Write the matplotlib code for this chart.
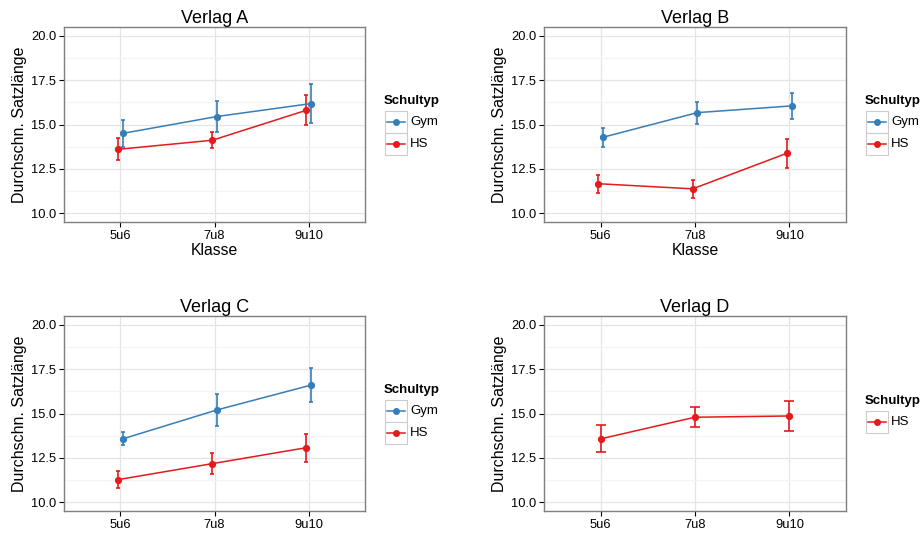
import matplotlib
matplotlib.use("Agg")
import matplotlib.pyplot as plt
from matplotlib.patches import Rectangle
from matplotlib.lines import Line2D
import numpy as np

plt.rcParams["font.family"] = ["Liberation Sans", "DejaVu Sans"]

KLASSEN = ["5u6", "7u8", "9u10"]
VERLAGE = ["Verlag A", "Verlag B", "Verlag C", "Verlag D"]

# mean sentence length per grade group (NaN = school type missing for that publisher)
GYM_MEAN = {
    "Verlag A": [14.50, 15.45, 16.18],
    "Verlag B": [14.28, 15.67, 16.05],
    "Verlag C": [13.57, 15.20, 16.60],
    "Verlag D": None,
}
GYM_ERR = {
    "Verlag A": [0.76, 0.85, 1.11],
    "Verlag B": [0.55, 0.62, 0.72],
    "Verlag C": [0.37, 0.90, 0.95],
    "Verlag D": None,
}
HS_MEAN = {
    "Verlag A": [13.60, 14.11, 15.80],
    "Verlag B": [11.66, 11.37, 13.38],
    "Verlag C": [11.27, 12.17, 13.07],
    "Verlag D": [13.57, 14.79, 14.86],
}
HS_ERR = {
    "Verlag A": [0.63, 0.45, 0.85],
    "Verlag B": [0.50, 0.49, 0.83],
    "Verlag C": [0.48, 0.58, 0.78],
    "Verlag D": [0.76, 0.57, 0.82],
}

COLORS = {"Gym": "#377EB8", "HS": "#E41A1C"}

W, H = 924, 537
fig = plt.figure(figsize=(W / 100, H / 100), dpi=100)

# panel boxes in pixels: left, top, right, bottom
BOXES = {
    "Verlag A": (64, 27, 365, 222),
    "Verlag B": (544, 27, 846, 222),
    "Verlag C": (64, 316, 365, 511),
    "Verlag D": (544, 316, 846, 511),
}
LEGEND_X = {"Verlag A": 385, "Verlag B": 866, "Verlag C": 385, "Verlag D": 866}


def px_axes(l, t, r, b):
    return fig.add_axes([l / W, 1 - b / H, (r - l) / W, (b - t) / H])


def draw_legend(x0, yc, groups):
    # ggplot-style legend: bold title, one boxed key per group
    lax = fig.add_axes([0, 0, 1, 1], facecolor="none")
    lax.set_xlim(0, W)
    lax.set_ylim(H, 0)
    lax.axis("off")
    key = 22
    total = 17 + key * len(groups)
    top = yc - total / 2
    lax.text(x0 - 1, top + 7, "Schultyp", fontsize=9.5, fontweight="bold",
             va="center", ha="left")
    for i, g in enumerate(groups):
        ky = top + 17 + i * key
        lax.add_patch(Rectangle((x0, ky), key, key, facecolor="white",
                                edgecolor="#cccccc", linewidth=0.8))
        lax.add_line(Line2D([x0 + 2, x0 + key - 2], [ky + key / 2] * 2,
                            color=COLORS[g], linewidth=1.1))
        lax.plot(x0 + key / 2, ky + key / 2, "o", color=COLORS[g], markersize=4)
        lax.text(x0 + key + 3, ky + key / 2, g, fontsize=9.5, va="center", ha="left")


x = np.arange(1, len(KLASSEN) + 1)

for verlag in VERLAGE:
    l, t, r, b = BOXES[verlag]
    ax = px_axes(l, t, r, b)

    series = []
    if GYM_MEAN[verlag] is not None:
        series.append(("Gym", GYM_MEAN[verlag], GYM_ERR[verlag]))
    series.append(("HS", HS_MEAN[verlag], HS_ERR[verlag]))

    dodge = 0.025 if len(series) > 1 else 0.0
    cap = 1.5 if len(series) > 1 else 3.5
    for g, mean, err in series:
        off = dodge if g == "Gym" else -dodge
        ax.errorbar(x + off, mean, yerr=err, color=COLORS[g], linewidth=1.1,
                    elinewidth=1.2, capsize=cap, capthick=1.2,
                    marker="o", markersize=4.2, zorder=4)

    ax.set_xlim(0.4, 3.6)
    ax.set_ylim(9.5, 20.5)
    ax.set_xticks(x)
    ax.set_xticklabels(KLASSEN)
    ax.set_yticks([10, 12.5, 15, 17.5, 20])
    ax.set_yticklabels(["10.0", "12.5", "15.0", "17.5", "20.0"])
    ax.set_yticks([11.25, 13.75, 16.25, 18.75], minor=True)
    ax.grid(which="major", color="#e5e5e5", linewidth=0.9)
    ax.grid(which="minor", axis="y", color="#f4f4f4", linewidth=0.9)
    ax.set_axisbelow(True)
    for s in ax.spines.values():
        s.set_color("#7f7f7f")
        s.set_linewidth(1.0)
    ax.tick_params(which="major", length=3.5, width=0.8, color="black",
                   labelsize=9.3, pad=2)
    ax.tick_params(which="minor", length=0)
    ax.set_title(verlag, fontsize=13, pad=3)
    ax.set_ylabel("Durchschn. Satzlänge", fontsize=11.5, labelpad=3)
    if verlag in ("Verlag A", "Verlag B"):
        ax.set_xlabel("Klasse", fontsize=11.3, labelpad=1)

    draw_legend(LEGEND_X[verlag], (t + b) / 2, [s[0] for s in series])

fig.savefig("out.png", dpi=100)
